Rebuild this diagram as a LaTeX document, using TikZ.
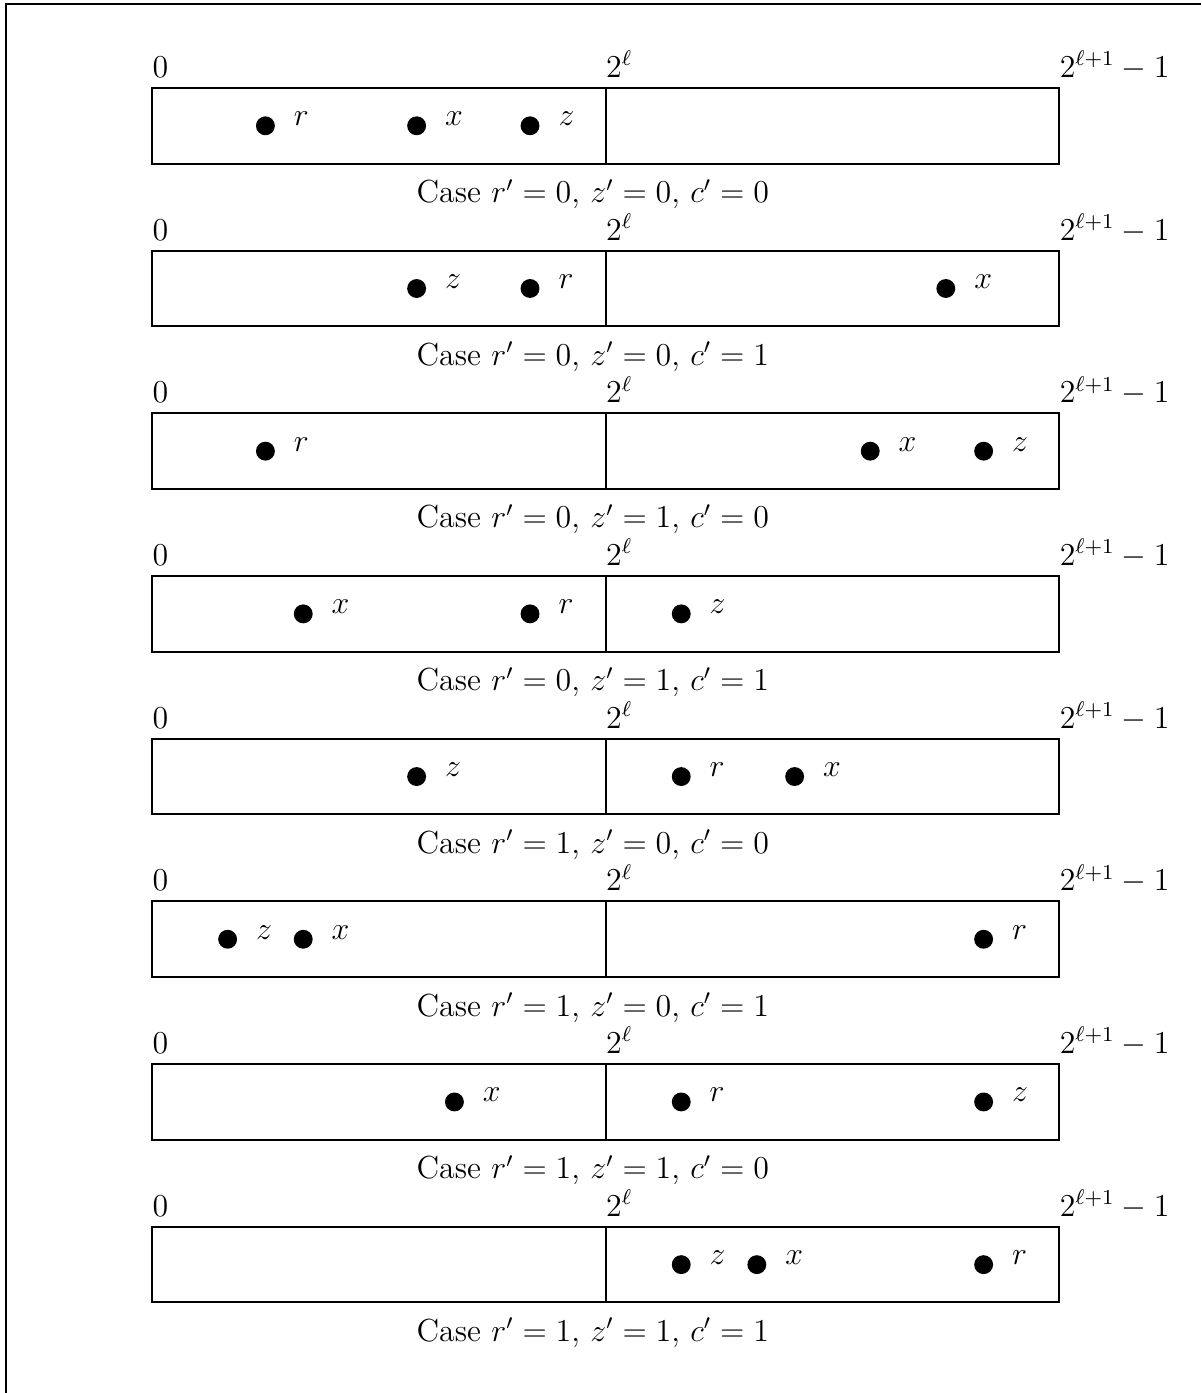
\documentclass[12pt,tikz,border=0pt]{standalone}
\begin{document}
\begin{tikzpicture}[
  box/.style={draw, line width=0.75pt, minimum width=12cm, minimum height=1cm, inner sep=0pt, outer sep=0pt, anchor=north west},
  divider/.style={line width=0.75pt},
  frame/.style={line width=0.5pt},
  pt/.style={circle, fill, inner sep=0pt, outer sep=0pt, minimum size=0.25cm},
  ptlab/.style={anchor=base west, inner sep=0pt},
  endlab/.style={anchor=base west, inner sep=0pt},
  caption/.style={anchor=base, inner sep=0pt},
]
\useasboundingbox (-2.011,1.164) rectangle (13.876,-17.262);
\coordinate (fTR) at (13.876,1.111);
\coordinate (fTL) at (-1.931,1.111);
\coordinate (fBL) at (-1.931,-17.262);
\draw[frame] (fTR) -- (fTL) -- (fBL);
\foreach \k/\a/\ax/\b/\bx/\c/\cx/\cap in {
  0/r/1.5/x/3.5/z/5/{$r'=0$, $z'=0$, $c'=0$},
  1/z/3.5/r/5/x/10.5/{$r'=0$, $z'=0$, $c'=1$},
  2/r/1.5/x/9.5/z/11/{$r'=0$, $z'=1$, $c'=0$},
  3/x/2/r/5/z/7/{$r'=0$, $z'=1$, $c'=1$},
  4/z/3.5/r/7/x/8.5/{$r'=1$, $z'=0$, $c'=0$},
  5/z/1/x/2/r/11/{$r'=1$, $z'=0$, $c'=1$},
  6/x/4/r/7/z/11/{$r'=1$, $z'=1$, $c'=0$},
  7/z/7/x/8/r/11/{$r'=1$, $z'=1$, $c'=1$}} {
  \pgfmathsetmacro\t{-2.152*\k}
  \node[box] (b\k) at (0,\t) {};
  \draw[divider] (b\k.north) -- (b\k.south);
  \node[endlab] (l0\k) at ([yshift=0.14cm]b\k.north west) {0};
  \node[endlab] (lm\k) at ([yshift=0.14cm]b\k.north) {$2^\ell$};
  \node[endlab] (le\k) at ([yshift=0.14cm]b\k.north east) {$2^{\ell+1}-1$};
  \node[caption] (c\k) at ([xshift=-0.17cm, yshift=-0.516cm]b\k.south) {Case \cap};
  \foreach \n/\p in {\a/\ax,\b/\bx,\c/\cx} {
    \node[pt] (d\k\n) at ([xshift=\p cm, yshift=-0.5cm]b\k.north west) {};
    \node[ptlab] (t\k\n) at ([xshift=0.37cm]d\k\n.center) {$\n$};
  }
}
\end{tikzpicture}
\end{document}
